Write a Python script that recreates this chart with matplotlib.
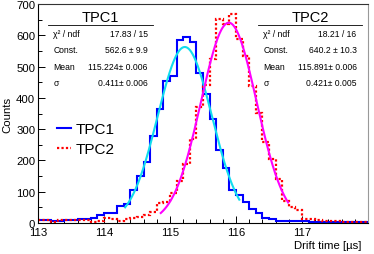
import numpy as np
import matplotlib
matplotlib.use("Agg")
import matplotlib.pyplot as plt
from matplotlib.lines import Line2D
from matplotlib.ticker import MultipleLocator

plt.rcParams['font.family'] = ['Liberation Sans', 'DejaVu Sans']

# ---- data ----
bin_edges = np.round(np.arange(113.0, 118.0001, 0.1), 2)
tpc1_counts = [11, 10, 7, 7, 10, 10, 14, 14, 15, 26,
               31, 32, 53, 61, 105, 151, 194, 279, 364, 454,
               470, 585, 593, 577, 481, 412, 332, 232, 175, 107,
               88, 68, 45, 31, 15, 14, 7, 7, 5, 5,
               5, 4, 3, 3, 4, 4, 3, 3, 3, 3]
tpc2_counts = [10, 10, 3, 11, 10, 9, 10, 8, 4, 6,
               15, 14, 7, 12, 15, 19, 27, 36, 63, 66,
               96, 135, 188, 268, 372, 440, 523, 651, 635, 667,
               587, 534, 438, 353, 258, 204, 140, 71, 50, 42,
               14, 12, 8, 7, 5, 6, 4, 4, 4, 4]

# fit results (Gaussian)
tpc1_fit = dict(const=562.6, mean=115.224, sigma=0.411, lo=114.32, hi=116.05)
tpc2_fit = dict(const=640.2, mean=115.891, sigma=0.421, lo=114.86, hi=116.79)

tpc1_stats = [("χ² / ndf", "17.83 / 15"), ("Const.", "562.6 ± 9.9"),
              ("Mean", "115.224± 0.006"), ("σ", "0.411± 0.006")]
tpc2_stats = [("χ² / ndf", "18.21 / 16"), ("Const.", "640.2 ± 10.3"),
              ("Mean", "115.891± 0.006"), ("σ", "0.421± 0.005")]

W, H = 374, 255
fig = plt.figure(figsize=(W / 100, H / 100), dpi=100)
L, R, T, B = 38, 368, 5, 224
ax = fig.add_axes([L / W, 1 - B / H, (R - L) / W, (B - T) / H])

def gauss(x, p):
    return p['const'] * np.exp(-0.5 * ((x - p['mean']) / p['sigma']) ** 2)

ax.stairs(tpc1_counts, bin_edges, baseline=None, color='#0000ff', lw=1.5, zorder=2)
ax.stairs(tpc2_counts, bin_edges, baseline=None, color='#ff0000', lw=1.6,
          linestyle=(0, (1, 1)), zorder=2.5)

for p, c in [(tpc1_fit, '#11ddee'), (tpc2_fit, '#ff00ff')]:
    xs = np.linspace(p['lo'], p['hi'], 300)
    ax.plot(xs, gauss(xs, p), color=c, lw=1.5, zorder=3)

ax.set_xlim(113, 118)
ax.set_ylim(0, 700)
ax.xaxis.set_major_locator(MultipleLocator(1))
ax.xaxis.set_minor_locator(MultipleLocator(0.2))
ax.yaxis.set_major_locator(MultipleLocator(100))
ax.yaxis.set_minor_locator(MultipleLocator(50))
ax.tick_params(which='both', direction='in', top=False, right=False, labelsize=8.2)
ax.tick_params(axis='y', pad=2)
ax.tick_params(axis='x', pad=2.6)
ax.tick_params(which='major', length=5.3, width=0.7)
ax.tick_params(which='minor', length=2.9, width=0.7)
ax.set_xticks([113, 114, 115, 116, 117])
for s in ax.spines.values():
    s.set_linewidth(0.8)
ax.spines['top'].set_color('#333333')
ax.spines['right'].set_color('#999999')

def px(x, y):
    return x / W, 1 - y / H

fig.text(*px(7, 115), "Counts", rotation=90, ha='center', va='center', fontsize=8.2)
fig.text(*px(361, 246), "Drift time [µs]", ha='right', va='center', fontsize=8.2)

# stat boxes
def statbox(title, rows, xl, xr, xt):
    fig.text(*px(xt, 18.5), title, ha='center', va='center', fontsize=10.5)
    fig.add_artist(Line2D([xl / W, xr / W], [1 - 26 / H, 1 - 26 / H],
                          color='black', lw=0.6))
    ys = [34.3, 51, 67.7, 83.3]
    for (lab, val), y in zip(rows, ys):
        fig.text(*px(xl + 5, y), lab, ha='left', va='center', fontsize=6.2)
        fig.text(*px(xr - 5.5, y), val, ha='right', va='center', fontsize=6.2)

statbox("TPC1", tpc1_stats, 48.3, 153.3, 100)
statbox("TPC2", tpc2_stats, 258.3, 362, 310)

handles = [Line2D([], [], color='#0000ff', lw=1.5),
           Line2D([], [], color='#ff0000', lw=1.6, linestyle=(0, (1, 1)))]
fig.legend(handles, ["TPC1", "TPC2"], loc='upper left',
           bbox_to_anchor=px(57, 123), frameon=False, fontsize=11,
           handlelength=0.9, handletextpad=0.3, labelspacing=0.42,
           borderpad=0, borderaxespad=0)

fig.savefig("out.png", dpi=100)
